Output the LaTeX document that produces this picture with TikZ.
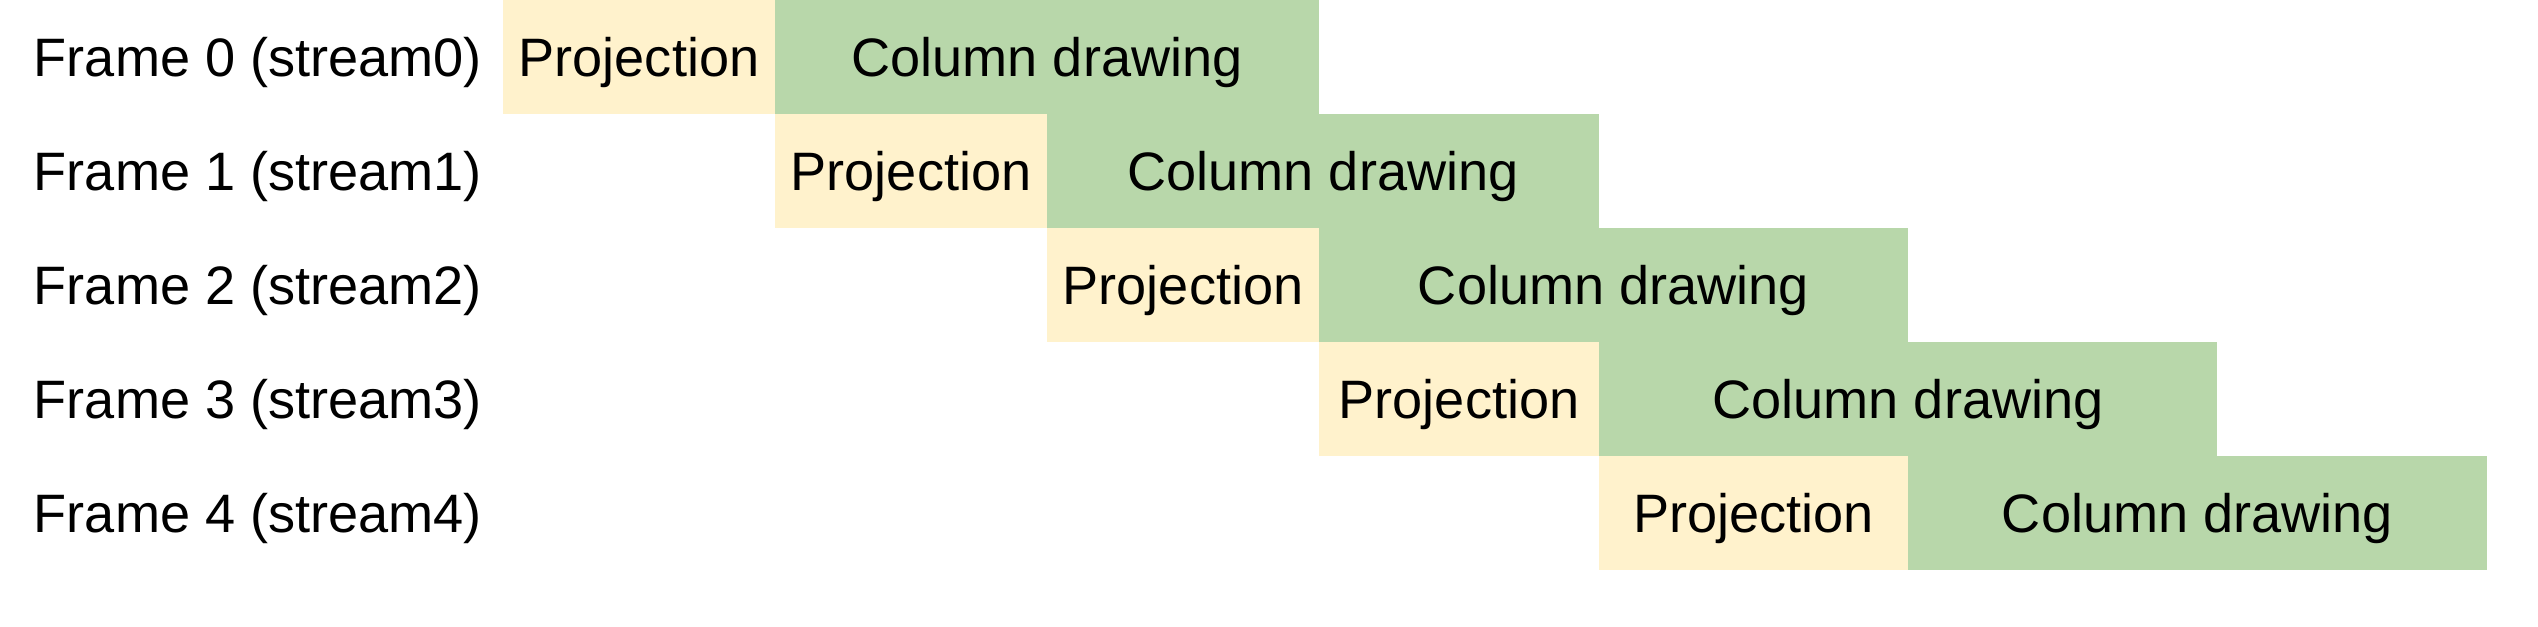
\documentclass[tikz,border=0pt]{standalone}
\usepackage{fontspec}
\setmainfont{Liberation Sans}
\usepackage{tikz}
\usetikzlibrary{positioning}
\usepackage{xcolor}
\definecolor{projyellow}{HTML}{FFF2CC}
\definecolor{colgreen}{HTML}{B8D7AA}

\begin{document}
\begin{tikzpicture}[
    stage/.style={inner sep=0pt, outer sep=0pt, minimum height=1.14cm, text depth=0pt,
                  align=center, font=\fontsize{15.4}{18}\selectfont},
    proj/.style={stage, fill=projyellow},
    coldraw/.style={stage, fill=colgreen},
    frame/.style={inner sep=0pt, outer sep=0pt, anchor=east, text depth=0pt,
                  font=\fontsize{15.4}{18}\selectfont},
]
\useasboundingbox (0,0) rectangle (25.38,-6.26);

% Frame 0
\node[proj, minimum width=2.72cm] (proj0) at (6.39,-0.57) {Projection};
\node[coldraw, minimum width=5.44cm, right=0pt of proj0] (col0) {Column drawing};

% Frame 1
\node[proj, minimum width=2.72cm, below right=0pt and 0pt of proj0] (proj1) {Projection};
\node[coldraw, minimum width=5.52cm, right=0pt of proj1] (col1) {Column drawing};

% Frame 2
\node[proj, minimum width=2.72cm, below right=0pt and 0pt of proj1] (proj2) {Projection};
\node[coldraw, minimum width=5.89cm, right=0pt of proj2] (col2) {Column drawing};

% Frame 3
\node[proj, minimum width=2.80cm, below right=0pt and 0pt of proj2] (proj3) {Projection};
\node[coldraw, minimum width=6.18cm, right=0pt of proj3] (col3) {Column drawing};

% Frame 4
\node[proj, minimum width=3.09cm, below right=0pt and 0pt of proj3] (proj4) {Projection};
\node[coldraw, minimum width=5.79cm, right=0pt of proj4] (col4) {Column drawing};

% Row labels
\node[frame, left=0.21cm of proj0] (frame0) {Frame 0 (stream0)};
\node[frame] (frame1) at (frame0.east |- proj1) {Frame 1 (stream1)};
\node[frame] (frame2) at (frame0.east |- proj2) {Frame 2 (stream2)};
\node[frame] (frame3) at (frame0.east |- proj3) {Frame 3 (stream3)};
\node[frame] (frame4) at (frame0.east |- proj4) {Frame 4 (stream4)};
\end{tikzpicture}
\end{document}
